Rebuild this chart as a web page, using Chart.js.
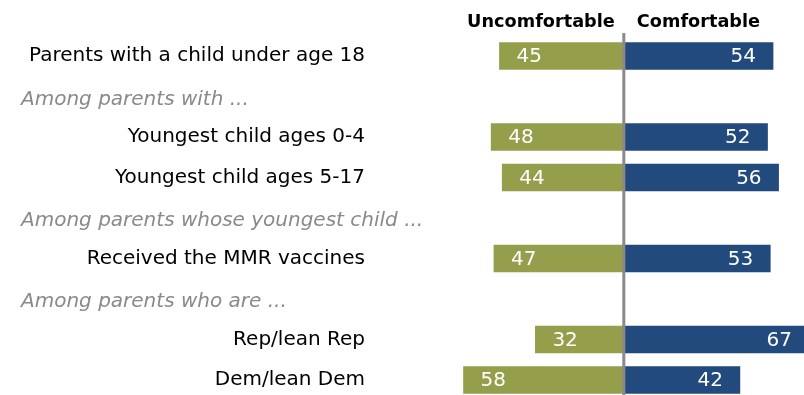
<!DOCTYPE html>
<html>
<head>
<meta charset="utf-8">
<script src="https://cdn.jsdelivr.net/npm/chart.js@4"></script>
<style>
  html, body { margin: 0; padding: 0; background: #fff; }
  #wrap { width: 804px; height: 395px; position: relative; }
</style>
</head>
<body>
<div id="wrap"><canvas id="chart"></canvas></div>
<script>
const categories = [
  'Parents with a child under age 18',
  'Among parents with ...',
  'Youngest child ages 0-4',
  'Youngest child ages 5-17',
  'Among parents whose youngest child ...',
  'Received the MMR vaccines',
  'Among parents who are ...',
  'Rep/lean Rep',
  'Dem/lean Dem'
];
// rows that are group headings, not data
const headingRows = [1, 4, 6];
const uncomfortable = [45, null, 48, 44, null, 47, null, 32, 58];
const comfortable = [54, null, 52, 56, null, 53, null, 67, 42];
const seriesNames = ['Uncomfortable', 'Comfortable'];

const GREEN = '#959e4a';
const BLUE = '#224a7c';
const FONT = '"DejaVu Sans", sans-serif';

const overlay = {
  id: 'overlay',
  afterDatasetsDraw(chart) {
    const { ctx, scales: { x, y } } = chart;
    const zero = x.getPixelForValue(0);

    // value labels inside the bars
    ctx.save();
    ctx.font = '20px ' + FONT;
    ctx.fillStyle = '#fff';
    ctx.textBaseline = 'middle';
    chart.data.datasets.forEach((ds, di) => {
      chart.getDatasetMeta(di).data.forEach((bar, i) => {
        const v = ds.data[i];
        if (v === null) return;
        const val = Math.abs(v);
        if (v < 0) {
          ctx.textAlign = 'left';
          ctx.fillText(val, bar.x + 17, bar.y + 1);
        } else {
          ctx.textAlign = 'right';
          ctx.fillText(val, bar.x - 17, bar.y + 1);
        }
      });
    });

    // center divider
    ctx.strokeStyle = '#8a8a8a';
    ctx.lineWidth = 3;
    ctx.beginPath();
    ctx.moveTo(zero, 33);
    ctx.lineTo(zero, chart.height);
    ctx.stroke();

    // column headers
    ctx.font = 'bold 17.7px ' + FONT;
    ctx.fillStyle = '#000';
    ctx.textBaseline = 'alphabetic';
    ctx.textAlign = 'right';
    ctx.fillText(seriesNames[0], zero - 9, 27);
    ctx.textAlign = 'left';
    ctx.fillText(seriesNames[1], zero + 13, 27);

    // group headings
    ctx.font = 'italic 20px ' + FONT;
    ctx.fillStyle = '#8a8a8a';
    ctx.textBaseline = 'middle';
    headingRows.forEach(i => {
      ctx.fillText(categories[i], 21, y.getPixelForValue(i) + 3);
    });
    ctx.restore();
  }
};

new Chart(document.getElementById('chart'), {
  type: 'bar',
  data: {
    labels: categories,
    datasets: [{
      label: seriesNames[0],
      data: uncomfortable.map(v => v === null ? null : -v),
      backgroundColor: GREEN,
      barThickness: 27,
      clip: false
    }, {
      label: seriesNames[1],
      data: comfortable,
      backgroundColor: BLUE,
      barThickness: 27,
      clip: false
    }]
  },
  options: {
    indexAxis: 'y',
    responsive: true,
    maintainAspectRatio: false,
    animation: false,
    layout: { padding: { top: 56, bottom: 15, left: 0, right: 0 } },
    plugins: {
      legend: { display: false },
      tooltip: { enabled: false }
    },
    scales: {
      x: {
        display: false,
        stacked: true,
        min: -60,
        max: 65.2
      },
      y: {
        stacked: true,
        offset: false,
        grid: { display: false, drawTicks: false },
        border: { display: false },
        afterFit(scale) {
          scale.width = 458;
          scale.paddingTop = 0;
          scale.paddingBottom = 0;
        },
        ticks: {
          padding: 93,
          color: '#000',
          font: { family: FONT, size: 20 },
          callback: (val, i) => headingRows.includes(i) ? '' : categories[i]
        }
      }
    }
  },
  plugins: [overlay]
});
</script>
</body>
</html>
